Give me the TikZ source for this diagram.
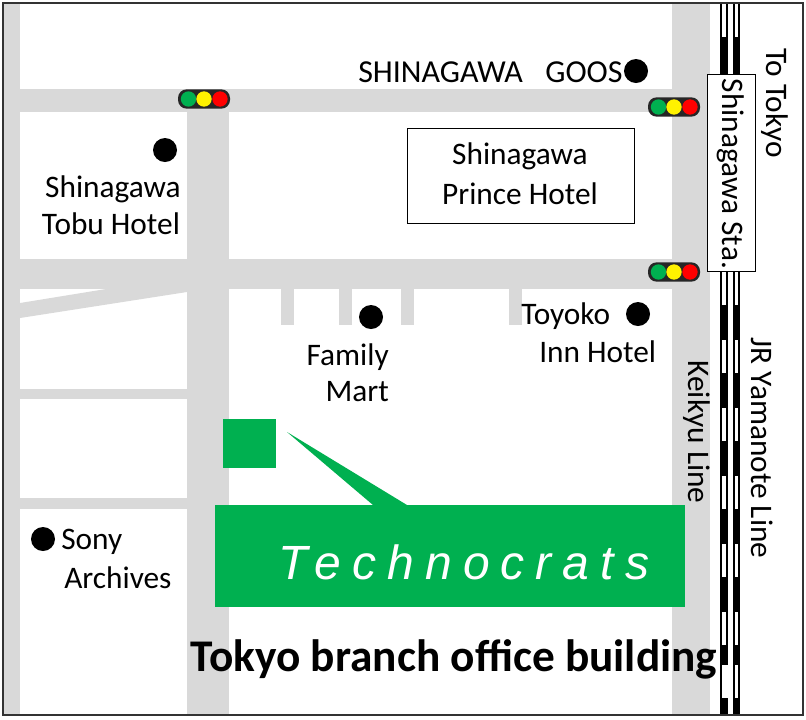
\documentclass[tikz,border=0pt]{standalone}
\usepackage{fontspec}
\setmainfont{Carlito}
\newfontfamily\logofont{Liberation Sans}[LetterSpace=23]
\usetikzlibrary{calc}
\definecolor{road}{HTML}{D9D9D9}
\definecolor{brand}{HTML}{00B050}

\begin{document}
\begin{tikzpicture}
[x=0.75pt,y=-0.75pt,
road/.style={fill=road,draw=none},
brand/.style={fill=brand,draw=none},
point/.style={fill=black,circle,inner sep=0pt,minimum size=18pt},
lamp/.style={circle,inner sep=0pt,minimum size=11.5pt},
label/.style={inner sep=0pt,font=\fontsize{23.5}{28}\selectfont},
track/.style={fill=black,draw=none}]

\useasboundingbox (0,0) rectangle (806,719);

% the roads
\fill[road] (3,3) rectangle (20,715);
\fill[road] (187,89) rectangle (229,715);
\fill[road] (672,3) rectangle (710,715);
\fill[road] (20,89) rectangle (672,112);
\fill[road] (3,259) rectangle (672,289);
\fill[road] (20,389) rectangle (187,399);
\fill[road] (20,498) rectangle (187,509);
\fill[road] (20,303) -- (106,289) -- (187,289) -- (187,292) -- (20,318) -- cycle;

% the side streets
\foreach \sx in {281,339,401,509}
  \fill[road] (\sx,289) rectangle ++(13,36);

% the tracks
\fill[track] (720,3) rectangle (728,715);
\fill[track] (733,3) rectangle (740,715);
\foreach \wy in {4,272,340,408,476,544,612}{
  \fill[white] (722,\wy) rectangle ++(3.5,33);
  \fill[white] (735,\wy) rectangle ++(3,33);
}
\fill[white] (722,665) rectangle (728,698);
\fill[white] (735,665) rectangle (738,698);

% the station and the hotel
\node[draw=black,fill=white,line width=1pt,minimum width=36pt,minimum height=147.5pt,inner sep=0pt] (station) at (731.5,173) {};
\node[draw=black,fill=white,line width=0.75pt,minimum width=170.5pt,minimum height=71.5pt,inner sep=0pt] (hotel) at (521,176) {};

% the office
\fill[brand] (223,419) rectangle (276,468);
\fill[brand] (287,432) -- (407,505) -- (373,505) -- cycle;
\fill[brand] (215,505) rectangle (685,607);

% the traffic lights
\foreach \lname/\lx/\ly in {north/204/99,east/674/107,south/674/272}{
  \node[fill=black!85,rounded corners=6.5pt,minimum width=39pt,minimum height=14.5pt,inner sep=0pt] (bar\lname) at (\lx,\ly) {};
  \node[lamp,fill=brand] (go\lname) at ($(\lx,\ly)+(-15.5,0)$) {};
  \node[lamp,fill=yellow] (wait\lname) at (\lx,\ly) {};
  \node[lamp,fill=red] (stop\lname) at ($(\lx,\ly)+(16,0)$) {};
}

% the points
\node[point] (goos) at (636,71) {};
\node[point] (tobu) at (165,150) {};
\node[point] (family) at (371,317) {};
\node[point] (toyoko) at (638,314) {};
\node[point] (sony) at (43,539) {};

% labelling the points
\node[label,anchor=west,font=\fontsize{24}{28}\selectfont] (goostext) at (358,72) {SHINAGAWA\hspace{0.7em}GOOS};
\node[label] (hotel1) at (520,156) {Shinagawa};
\node[label] (hotel2) at (520,194) {Prince Hotel};
\node[label] (tobu1) at (113,189) {Shinagawa};
\node[label] (tobu2) at (111,224) {Tobu Hotel};
\node[label,anchor=east] (family1) at (389,357) {Family};
\node[label,anchor=east] (family2) at (389,392) {Mart};
\node[label,anchor=west] (toyoko1) at (521,316) {Toyoko};
\node[label,anchor=west] (toyoko2) at (539,352) {Inn Hotel};
\node[label,anchor=west] (sony1) at (61,542) {Sony};
\node[label,anchor=west] (sony2) at (64,578) {Archives};

% the vertical labels
\node[label,rotate=-90] (totokyo) at (775,103) {To Tokyo};
\node[label,rotate=-90] (stationtext) at (731,174) {Shinagawa Sta.};
\node[label,rotate=-90] (keikyu) at (697,432) {Keikyu Line};
\node[label,rotate=-90] (yamanote) at (762,448) {JR Yamanote Line};

% the big labels
\node[inner sep=0pt,text=white,font=\logofont\itshape\fontsize{36}{43}\selectfont] (logo) at (464,562) {Technocrats};
\node[inner sep=0pt,font=\bfseries\fontsize{34}{40}\selectfont] (office) at (454,659) {Tokyo branch office building};

% the frame
\draw[black!80,line width=1.1pt] (3,3) rectangle (803,715);
\end{tikzpicture}
\end{document}
